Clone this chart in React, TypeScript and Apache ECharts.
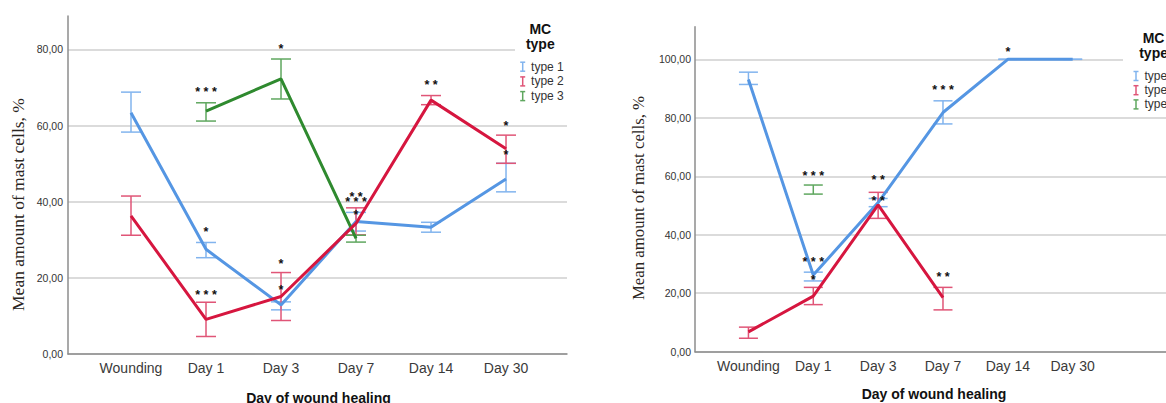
import React, { useEffect, useRef } from 'react';
import * as echarts from 'echarts';

const categories = ['Wounding', 'Day 1', 'Day 3', 'Day 7', 'Day 14', 'Day 30'];
const typeNames = ['type 1', 'type 2', 'type 3'];
const leftYTicks = [0, 20, 40, 60, 80];
const rightYTicks = [0, 20, 40, 60, 80, 100];

// Left panel (means and error-bar bounds)
const leftT1Mean = [63.4, 27.5, 12.9, 34.8, 33.3, 46.0];
const leftT1Low = [58.3, 25.3, 11.6, 32.3, 32.0, 42.6];
const leftT1High = [68.8, 29.3, 13.7, 37.2, 34.6, 50.1];
const leftT2Mean = [36.3, 9.1, 15.1, 34.3, 66.7, 53.9];
const leftT2Low = [31.2, 4.6, 8.8, 31.3, 65.5, 50.1];
const leftT2High = [41.5, 13.6, 21.4, 38.4, 67.9, 57.5];
const leftT3Mean = [null, 63.8, 72.3, 30.4, null, null];
const leftT3Low = [null, 61.2, 67.0, 29.4, null, null];
const leftT3High = [null, 66.0, 77.5, 31.2, null, null];

// Right panel
const rightT1Mean = [93.1, 26.2, 51.0, 81.8, 100, 100];
const rightT1Low = [91.4, 24.2, 49.6, 77.9, 100, 100];
const rightT1High = [95.6, 27.2, 52.4, 85.8, 100, 100];
const rightT2Mean = [6.8, 19.0, 50.2, 18.5, null, null];
const rightT2Low = [4.6, 16.1, 45.6, 14.3, null, null];
const rightT2High = [8.4, 22.0, 54.5, 22.0, null, null];
const rightT3Mean = [null, 55.3, null, null, null, null];
const rightT3Low = [null, 53.9, null, null, null, null];
const rightT3High = [null, 57.0, null, null, null, null];

// Significance marks: [category index, value, text]
const leftStars: [number, number, string][] = [
  [1, 69.5, '***'],
  [2, 81.0, '*'],
  [1, 32.8, '*'],
  [1, 16.3, '***'],
  [2, 24.4, '*'],
  [2, 17.7, '*'],
  [3, 42.0, '**'],
  [3, 40.6, '***'],
  [3, 37.4, '*'],
  [4, 71.5, '**'],
  [5, 60.8, '*'],
  [5, 53.0, '*'],
];
const rightStars: [number, number, string][] = [
  [1, 61.2, '***'],
  [1, 31.8, '***'],
  [1, 25.6, '*'],
  [2, 59.8, '**'],
  [2, 52.6, '**'],
  [3, 90.4, '***'],
  [3, 26.5, '**'],
  [4, 103.4, '*'],
];

const LINE_COLORS = ['#5596e3', '#d6163f', '#2f8a2f'];
const BAR_COLORS = ['#82b4ee', '#e05577', '#5fa75f'];
const SANS = '"Liberation Sans", Arial, sans-serif';
const SERIF = '"Liberation Serif", "Times New Roman", serif';

function fmtTick(v: number) {
  return v.toFixed(2).replace('.', ',');
}

function buildPanel(
  gi: number,
  means: (number | null)[][],
  lows: (number | null)[][],
  highs: (number | null)[][],
  stars: [number, number, string][],
  halfW: number
) {
  const series: any[] = [];
  for (let t = 0; t < 3; t++) {
    const bars: number[][] = [];
    means[t].forEach((m, i) => {
      const lo = lows[t][i];
      const hi = highs[t][i];
      if (m !== null && lo !== null && hi !== null) bars.push([i, lo, hi]);
    });
    const color = BAR_COLORS[t];
    series.push({
      type: 'custom',
      xAxisIndex: gi,
      yAxisIndex: gi,
      z: 2,
      silent: true,
      encode: { x: 0, y: [1, 2] },
      data: bars,
      renderItem: (params: any, api: any) => {
        const x = api.value(0);
        const pLo = api.coord([x, api.value(1)]);
        const pHi = api.coord([x, api.value(2)]);
        const st = { stroke: color, lineWidth: 1.5, fill: 'none' };
        return {
          type: 'group',
          children: [
            { type: 'line', shape: { x1: pLo[0], y1: pLo[1], x2: pHi[0], y2: pHi[1] }, style: st },
            { type: 'line', shape: { x1: pLo[0] - halfW, y1: pLo[1], x2: pLo[0] + halfW, y2: pLo[1] }, style: st },
            { type: 'line', shape: { x1: pHi[0] - halfW, y1: pHi[1], x2: pHi[0] + halfW, y2: pHi[1] }, style: st },
          ],
        };
      },
    });
  }
  const order = [0, 2, 1];
  order.forEach((t, k) => {
    const pts: number[][] = [];
    means[t].forEach((m, i) => {
      if (m !== null) pts.push([i, m]);
    });
    series.push({
      type: 'line',
      name: typeNames[t],
      xAxisIndex: gi,
      yAxisIndex: gi,
      z: 3 + k,
      data: pts,
      showSymbol: false,
      symbol: 'none',
      silent: true,
      lineStyle: { color: LINE_COLORS[t], width: 3 },
      itemStyle: { color: LINE_COLORS[t] },
    });
  });
  series.push({
    type: 'custom',
    xAxisIndex: gi,
    yAxisIndex: gi,
    z: 10,
    silent: true,
    encode: { x: 0, y: 1 },
    data: stars.map((s) => [s[0], s[1]]),
    renderItem: (params: any, api: any) => {
      const p = api.coord([api.value(0), api.value(1)]);
      const txt = stars[params.dataIndex][2].split('').join(' ');
      return {
        type: 'text',
        x: p[0],
        y: p[1] + 3,
        style: {
          text: txt,
          fill: '#111111',
          font: 'bold 12.5px ' + SANS,
          align: 'center',
          verticalAlign: 'middle',
        },
      };
    },
  });
  return series;
}

function legendGraphics(rectX: number, iconX: number, titleY: number, itemY0: number, step: number) {
  const els: any[] = [
    { type: 'rect', z: 100, shape: { x: rectX, y: titleY - 16, width: 80, height: itemY0 + step * 2 - titleY + 26 }, style: { fill: '#ffffff' } },
    { type: 'text', z: 101, x: iconX + 17.6, y: titleY, style: { text: 'MC', font: 'bold 14px ' + SANS, fill: '#111', align: 'center', verticalAlign: 'middle' } },
    { type: 'text', z: 101, x: iconX + 17.6, y: titleY + 15, style: { text: 'type', font: 'bold 14px ' + SANS, fill: '#111', align: 'center', verticalAlign: 'middle' } },
  ];
  typeNames.forEach((n, i) => {
    const y = itemY0 + i * step;
    const c = BAR_COLORS[i];
    els.push(
      { type: 'line', z: 101, shape: { x1: iconX, y1: y - 4.5, x2: iconX, y2: y + 4.5 }, style: { stroke: c, lineWidth: 1.5 } },
      { type: 'line', z: 101, shape: { x1: iconX - 2.5, y1: y - 4.5, x2: iconX + 2.5, y2: y - 4.5 }, style: { stroke: c, lineWidth: 1.5 } },
      { type: 'line', z: 101, shape: { x1: iconX - 2.5, y1: y + 4.5, x2: iconX + 2.5, y2: y + 4.5 }, style: { stroke: c, lineWidth: 1.5 } },
      { type: 'text', z: 101, x: iconX + 8.4, y, style: { text: n, font: '12px ' + SANS, fill: '#333', align: 'left', verticalAlign: 'middle' } }
    );
  });
  return els;
}

export default function App() {
  const ref = useRef<HTMLDivElement>(null);
  useEffect(() => {
    document.body.style.margin = '0';
    if (!ref.current) return;
    const chart = echarts.init(ref.current, null, { renderer: 'svg' });

    const axisLineStyle = { color: '#8c8c8c', width: 1.5 };
    const splitLineStyle = { color: '#cfcfcf', width: 1.5 };
    const catLabel = (margin: number) => ({
      customValues: [0, 1, 2, 3, 4, 5],
      formatter: (v: number) => categories[Math.round(v)] ?? '',
      color: '#3a3a3a',
      fontSize: 14,
      fontFamily: SANS,
      margin,
    });

    const option: any = {
      animation: false,
      backgroundColor: '#ffffff',
      grid: [
        { left: 68, top: 16, width: 499, height: 338 },
        { left: 695, top: 26.7, width: 520, height: 325 },
      ],
      xAxis: [
        {
          type: 'value',
          gridIndex: 0,
          min: -0.84,
          max: 5.813,
          axisLine: { show: true, onZero: false, lineStyle: axisLineStyle },
          axisTick: { show: false, customValues: [0, 1, 2, 3, 4, 5] },
          splitLine: { show: false },
          axisLabel: catLabel(7),
        },
        {
          type: 'value',
          gridIndex: 1,
          min: -0.824,
          max: 6.439,
          axisLine: { show: true, onZero: false, lineStyle: axisLineStyle },
          axisTick: { show: false, customValues: [0, 1, 2, 3, 4, 5] },
          splitLine: { show: false },
          axisLabel: catLabel(7),
        },
      ],
      yAxis: [
        {
          type: 'value',
          gridIndex: 0,
          min: 0,
          max: 88.8,
          axisLine: { show: true, onZero: false, lineStyle: axisLineStyle },
          axisTick: { show: false, customValues: leftYTicks },
          splitLine: { show: true, lineStyle: splitLineStyle },
          axisLabel: { customValues: leftYTicks, formatter: fmtTick, color: '#333', fontSize: 10.5, fontFamily: SANS, margin: 5 },
        },
        {
          type: 'value',
          gridIndex: 1,
          min: 0,
          max: 111.15,
          axisLine: { show: true, onZero: false, lineStyle: axisLineStyle },
          axisTick: { show: false, customValues: rightYTicks },
          splitLine: { show: true, lineStyle: splitLineStyle },
          axisLabel: { customValues: rightYTicks, formatter: fmtTick, color: '#333', fontSize: 10.5, fontFamily: SANS, margin: 4 },
        },
      ],
      series: [
        ...buildPanel(
          0,
          [leftT1Mean, leftT2Mean, leftT3Mean],
          [leftT1Low, leftT2Low, leftT3Low],
          [leftT1High, leftT2High, leftT3High],
          leftStars,
          10
        ),
        ...buildPanel(
          1,
          [rightT1Mean, rightT2Mean, rightT3Mean],
          [rightT1Low, rightT2Low, rightT3Low],
          [rightT1High, rightT2High, rightT3High],
          rightStars,
          9.5
        ),
      ],
      graphic: [
        {
          type: 'text', x: 18, y: 204.5, rotation: Math.PI / 2,
          style: { text: 'Mean amount of mast cells, %', font: '17.5px ' + SERIF, fill: '#2a2522', align: 'center', verticalAlign: 'middle' },
        },
        {
          type: 'text', x: 638, y: 198, rotation: Math.PI / 2,
          style: { text: 'Mean amount of mast cells, %', font: '16.8px ' + SERIF, fill: '#2a2522', align: 'center', verticalAlign: 'middle' },
        },
        {
          type: 'text', x: 318.5, y: 398,
          style: { text: 'Day of wound healing', font: 'bold 14px ' + SANS, fill: '#111', align: 'center', verticalAlign: 'middle' },
        },
        {
          type: 'text', x: 934, y: 394,
          style: { text: 'Day of wound healing', font: 'bold 14px ' + SANS, fill: '#111', align: 'center', verticalAlign: 'middle' },
        },
        ...legendGraphics(515, 522.7, 29, 66.7, 14.7),
        ...legendGraphics(1123, 1136, 38.3, 76, 14.2),
      ],
    };
    chart.setOption(option);
    return () => chart.dispose();
  }, []);
  return <div ref={ref} style={{ width: 1166, height: 403 }} />;
}
